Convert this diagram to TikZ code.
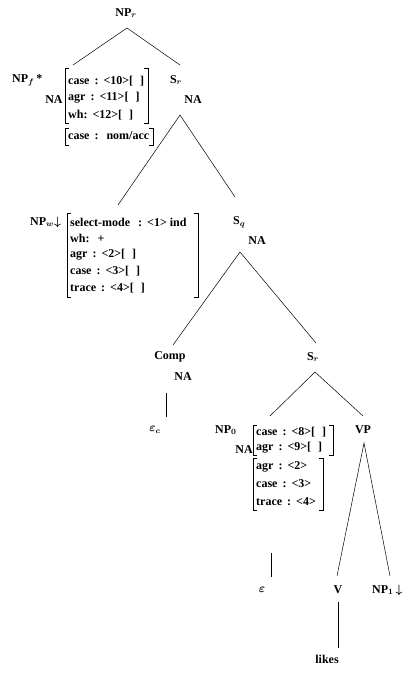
\documentclass[tikz,border=0pt]{standalone}
\usepackage{fontspec}
\setmainfont{Liberation Serif}
\newcommand{\eb}{[\hspace{7pt}]}
\newcommand{\cs}{\hspace{5pt}:\hspace{5pt}}
\begin{document}
\begin{tikzpicture}[x=1pt,y=-1pt,
  every node/.style={inner sep=0pt,font=\fontsize{12}{14}\selectfont\bfseries\boldmath},
  lbl/.style={anchor=center},
  row/.style={anchor=west},
  edge/.style={draw,line width=0.5pt},
  brk/.style={draw,line width=0.6pt}]
\useasboundingbox (0,0) rectangle (413,674);
% labels
\node[lbl] (npr) at (126,13) {NP$_r$};
\node[row] (npf) at (12,80) {NP$_f$\,*};
\node[lbl] (na1) at (54,100) {NA};
\node[lbl] (sr1) at (176,80) {S$_r$};
\node[lbl] (na2) at (193,100) {NA};
\node[row] (npw) at (30,222) {NP$_w$$\downarrow$};
\node[row] (sq) at (233,222) {S$_q$};
\node[lbl] (na3) at (257,241) {NA};
\node[lbl] (comp) at (170,357) {Comp};
\node[lbl] (na4) at (183,377) {NA};
\node[lbl] (epsc) at (155,430) {$\varepsilon_c$};
\node[lbl] (sr2) at (313,357) {S$_r$};
\node[row] (np0) at (215,430) {NP$_0$};
\node[lbl] (na5) at (244,450) {NA};
\node[lbl] (vp) at (363,430) {VP};
\node[lbl] (eps) at (262,590) {$\varepsilon$};
\node[lbl] (v) at (338,590) {V};
\node[row] (np1) at (372,590) {NP$_1$\,$\downarrow$};
\node[lbl] (likes) at (327,659) {likes};
% matrix 1
\node[row] (m1a) at (68,81) {case\cs<10>\eb};
\node[row] (m1b) at (68,98) {agr\cs<11>\eb};
\node[row] (m1c) at (68,115) {wh:\hspace{5pt}<12>\eb};
\node[row] (m1d) at (68,136) {case\cs\hspace{3pt}nom/acc};
\draw[brk] (69,68) -- (65,68) -- (65,123) -- (69,123);
\draw[brk] (144,68) -- (148,68) -- (148,123) -- (144,123);
\draw[brk] (69,128) -- (65,128) -- (65,145) -- (69,145);
\draw[brk] (149,128) -- (153,128) -- (153,145) -- (149,145);
% matrix 2
\node[row] (m2a) at (70,222) {select-mode\hspace{8pt}:\hspace{5pt}<1> ind};
\node[row] (m2b) at (70,238) {wh:\hspace{8pt}+};
\node[row] (m2c) at (70,255) {agr\cs<2>\eb};
\node[row] (m2d) at (70,271) {case\cs<3>\eb};
\node[row] (m2e) at (70,288) {trace\cs<4>\eb};
\draw[brk] (71,213) -- (67,213) -- (67,297) -- (71,297);
\draw[brk] (194,213) -- (198,213) -- (198,297) -- (194,297);
% matrix 3
\node[row] (m3a) at (256,432) {case\cs<8>\eb};
\node[row] (m3b) at (256,448) {agr\cs<9>\eb};
\node[row] (m3c) at (256,467) {agr\cs<2>};
\node[row] (m3d) at (256,484) {case\cs<3>};
\node[row] (m3e) at (256,502) {trace\cs<4>};
\draw[brk] (257,425) -- (253,425) -- (253,455) -- (257,455);
\draw[brk] (329,425) -- (333,425) -- (333,455) -- (329,455);
\draw[brk] (257,458) -- (253,458) -- (253,510) -- (257,510);
\draw[brk] (319,458) -- (323,458) -- (323,510) -- (319,510);
% connector endpoints
\coordinate (a0) at (127,28);
\coordinate (a1) at (73,65);
\coordinate (a2) at (180,65);
\coordinate (b0) at (180,115);
\coordinate (b1) at (118,205);
\coordinate (b2) at (235,197);
\coordinate (c0) at (240,252);
\coordinate (c1) at (173,345);
\coordinate (c2) at (316,343);
\coordinate (d0) at (166,393);
\coordinate (d1) at (166,417);
\coordinate (e0) at (315,372);
\coordinate (e1) at (270,416);
\coordinate (e2) at (363,416);
\coordinate (f0) at (364,443);
\coordinate (f1) at (337,576);
\coordinate (f2) at (390,576);
\coordinate (g0) at (271,553);
\coordinate (g1) at (271,577);
\coordinate (h0) at (338,602);
\coordinate (h1) at (338,648);
\draw[edge] (a1) -- (a0) -- (a2);
\draw[edge] (b1) -- (b0) -- (b2);
\draw[edge] (c1) -- (c0) -- (c2);
\draw[edge] (d0) -- (d1);
\draw[edge] (e1) -- (e0) -- (e2);
\draw[edge] (f1) -- (f0) -- (f2);
\draw[edge] (g0) -- (g1);
\draw[edge] (h0) -- (h1);
\end{tikzpicture}
\end{document}
